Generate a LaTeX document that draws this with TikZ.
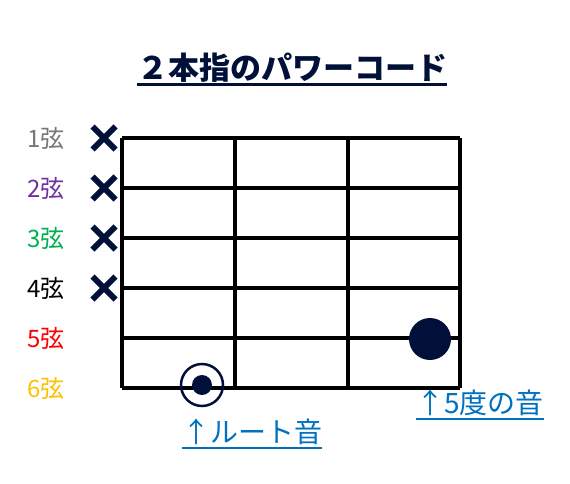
\documentclass[tikz,border=0pt]{standalone}
\usepackage{fontspec}
\newfontfamily\jp{Noto Sans CJK JP}
\usetikzlibrary{shapes.misc}
\definecolor{kon}{RGB}{0,16,56}
\definecolor{aoji}{RGB}{0,112,192}
\definecolor{hai}{RGB}{118,118,118}
\definecolor{murasaki}{RGB}{112,48,160}
\definecolor{midori}{RGB}{0,176,80}
\definecolor{aka}{RGB}{255,0,0}
\definecolor{kiiro}{RGB}{255,192,0}
\tikzset{ %部品のスタイル
    gen/.style={font=\jp\fontsize{24}{28}\selectfont, inner sep=0pt},
    batsu/.style={cross out, draw=kon, line width=6pt, minimum size=17pt, inner sep=0pt},
    oto/.style={circle, fill=kon, inner sep=0pt},
    setsumei/.style={font=\jp\fontsize{28}{32}\selectfont, text=aoji, inner sep=0pt},
    sen/.style={line width=3.2pt},
}

\begin{document}
\begin{tikzpicture}[x=1pt,y=-1pt]
		\useasboundingbox (0,0) rectangle (570,484);
		\node[font=\jp\bfseries\fontsize{31}{36}\selectfont, text=kon, inner sep=0pt] (title) at (292,68) {２本指のパワーコード};
		\draw[kon, line width=3pt] ([yshift=-5pt]title.base west) -- ([yshift=-5pt]title.base east);
		% 指板
		\foreach \y in {138,188,...,388}{
			\draw[sen] (122,\y) -- (460,\y);
		}
		\foreach \x in {122,235,348,460}{
			\draw[sen] (\x,138) -- (\x,388);
		}
		% 弦の名前とミュート
		\foreach \n/\c in {1/hai,2/murasaki,3/midori,4/black,5/aka,6/kiiro}{
			\node[gen, text=\c] (gen\n) at (46,88+50*\n) {\n{}弦};
		}
		\foreach \n in {1,2,3,4}{
			\node[batsu] (batsu\n) at (104,88+50*\n) {};
		}
		% 押さえる音
		\node[oto, minimum size=42pt] (godo) at (430,339) {};
		\node[circle, draw=kon, line width=2.5pt, minimum size=42pt] (root) at (202,385) {};
		\node[oto, minimum size=20pt] (rootdot) at (root) {};
		\node[setsumei] (godolbl) at (480,403) {↑5度の音};
		\draw[aoji, line width=2pt] ([yshift=-5pt]godolbl.base west) -- ([yshift=-5pt]godolbl.base east);
		\node[setsumei] (rootlbl) at (252,432) {↑ルート音};
		\draw[aoji, line width=2pt] ([yshift=-5pt]rootlbl.base west) -- ([yshift=-5pt]rootlbl.base east);
	\end{tikzpicture}
\end{document}
